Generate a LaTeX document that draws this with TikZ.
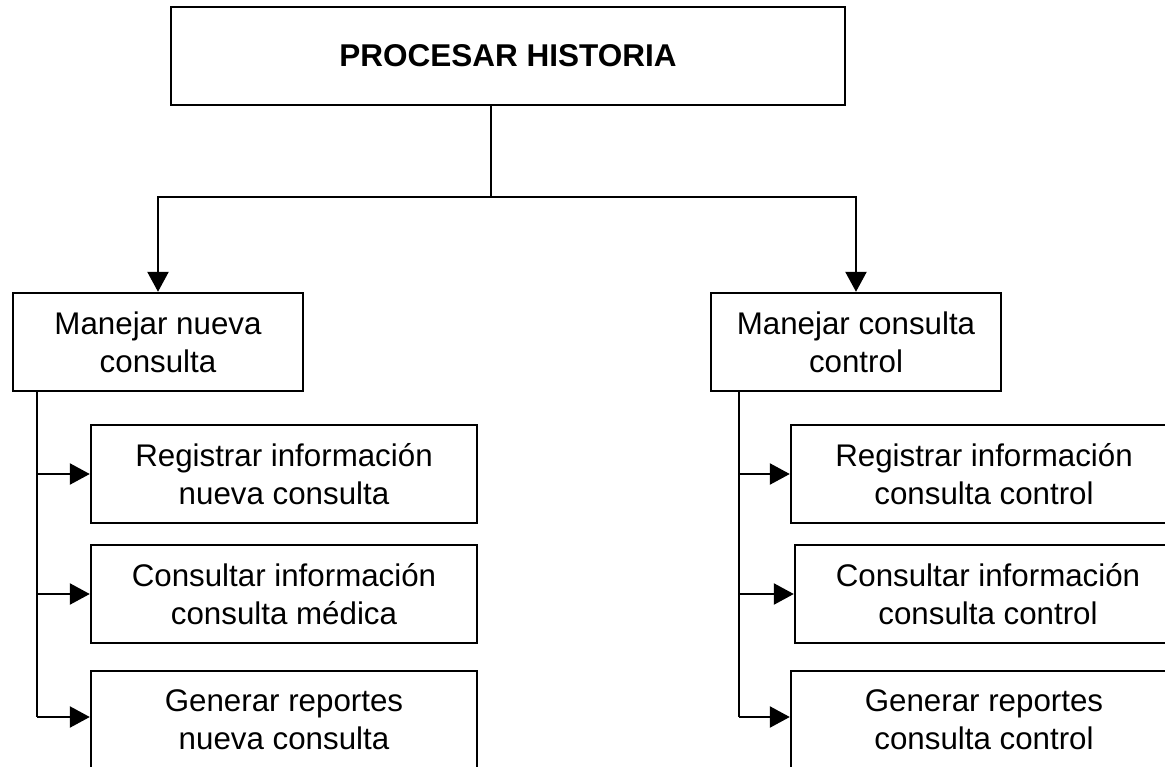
\documentclass[tikz,border=0pt]{standalone}
\usepackage{fontspec}
\setmainfont{Liberation Sans}
\usetikzlibrary{arrows.meta,positioning}

\begin{document}
\begin{tikzpicture}[x=1pt, y=-1pt, line width=2.4pt,
  box/.style={draw, line width=2.4pt, inner sep=0pt, minimum height=98pt,
    align=center, font=\fontsize{31.3}{38}\selectfont},
  subbox/.style={box, minimum width=386pt},
  arr/.style={-{Triangle[length=20pt,width=21pt]}}]
  \clip (0,0) rectangle (1165,766);
  % root process
  \node[box, minimum width=674pt, font=\fontsize{31.5}{38}\selectfont\bfseries] (hist) at (508,56) {PROCESAR HISTORIA};
  % second level
  \node[box, minimum width=290pt] (nueva) at (158,342) {Manejar nueva\\consulta};
  \node[box, minimum width=290pt] (control) at (856,342) {Manejar consulta\\control};
  % leaves under nueva consulta
  \node[subbox] (regnueva) at (284,474) {Registrar información\\nueva consulta};
  \node[subbox] (connueva) at (284,594) {Consultar información\\consulta médica};
  \node[subbox] (gennueva) at (284,720) {Generar reportes\\nueva consulta};
  % leaves under consulta control
  \node[subbox] (regcontrol) at (984,474) {Registrar información\\consulta control};
  \node[subbox] (concontrol) at (988,594) {Consultar información\\consulta control};
  \node[subbox] (gencontrol) at (984,720) {Generar reportes\\consulta control};

  % split under the root
  \coordinate (split) at (491,197);
  \draw (hist.south -| split) -- (split);
  \draw[arr] (split) -| (nueva.north);
  \draw[arr] (split) -| (control.north);

  % left trunk
  \coordinate (trunkl) at (37,717);
  \draw (nueva.south -| trunkl) -- (trunkl);
  \draw[arr] (regnueva.west -| trunkl) -- (regnueva.west);
  \draw[arr] (connueva.west -| trunkl) -- (connueva.west);
  \draw[arr] (trunkl) -- (trunkl -| gennueva.west);

  % right trunk
  \coordinate (trunkr) at (739,717);
  \draw (control.south -| trunkr) -- (trunkr);
  \draw[arr] (regcontrol.west -| trunkr) -- (regcontrol.west);
  \draw[arr] (concontrol.west -| trunkr) -- (concontrol.west);
  \draw[arr] (trunkr) -- (trunkr -| gencontrol.west);
\end{tikzpicture}
\end{document}
